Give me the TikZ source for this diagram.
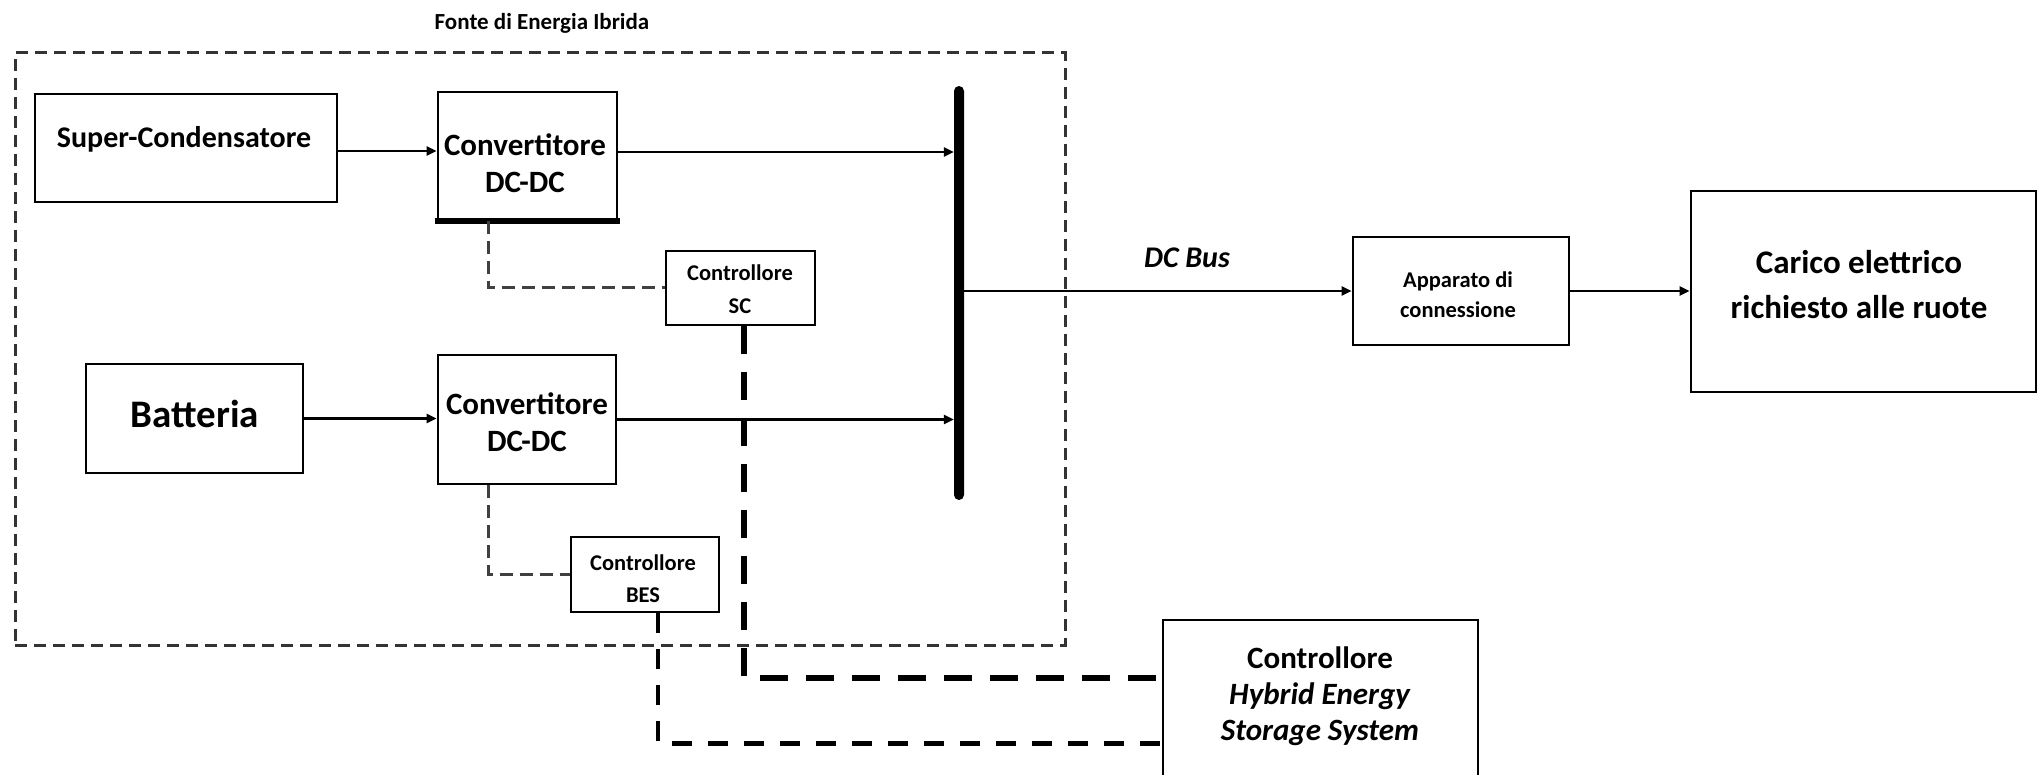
\documentclass[tikz,border=0pt]{standalone}
\usepackage{fontspec}
\setmainfont{Carlito}
\usetikzlibrary{arrows.meta}
\begin{document}
\begin{tikzpicture}[x=1pt,y=-1pt,
  box/.style={draw=black, line width=2.8pt, inner sep=0pt},
  ctrlbox/.style={draw=black, line width=2.5pt, inner sep=0pt},
  arr/.style={line width=2.6pt, -{Triangle[length=10pt,width=9pt]}},
  plain/.style={line width=2.6pt},
  outerdash/.style={draw=black!80, line width=3pt, dash pattern=on 12pt off 7pt},
  thindash/.style={draw=black!75, line width=3pt, dash pattern=on 13pt off 7pt},
  scdash/.style={line width=6pt, dash pattern=on 28pt off 18pt},
  besdash/.style={line width=4.5pt, dash pattern=on 20pt off 16pt},
  txt/.style={inner sep=0pt, align=center, font=\bfseries}
]
\useasboundingbox (0,0) rectangle (2040,775);

% dashed frame
\node[outerdash, inner sep=0pt, minimum width=1050pt, minimum height=592pt] (fonte) at (540,349) {};
\node[txt, font=\bfseries\fontsize{23}{27}\selectfont] (fonteT) at (542,23) {Fonte di Energia Ibrida};

% boxes
\node[box, minimum width=302pt, minimum height=108pt] (sc) at (186,148) {};
\node[box, minimum width=179pt, minimum height=128pt] (conv1) at (527.5,156) {};
\node[ctrlbox, minimum width=149pt, minimum height=74pt] (scc) at (740.5,288) {};
\node[box, minimum width=217pt, minimum height=109pt] (bat) at (194.5,418.5) {};
\node[box, minimum width=178pt, minimum height=129pt] (conv2) at (527,419.5) {};
\node[ctrlbox, minimum width=148pt, minimum height=75pt] (bes) at (645,574.5) {};
\node[box, minimum width=216pt, minimum height=108pt] (app) at (1461,291) {};
\node[box, minimum width=345pt, minimum height=201pt] (car) at (1863.5,291.5) {};
\node[box, minimum width=315pt, minimum height=180pt] (hess) at (1320.5,710) {};
\node[fill=black, inner sep=0pt, minimum width=10pt, minimum height=414pt, rounded corners=5pt] (bus) at (959,293) {};

% thick bottom edge of upper converter
\draw[line width=6pt] ([xshift=-2pt]conv1.south west) -- ([xshift=2pt]conv1.south east);

% texts
\node[txt, font=\bfseries\fontsize{30}{36}\selectfont, anchor=base] (scT) at (184,148) {Super-Condensatore};
\node[txt, font=\bfseries\fontsize{31}{37}\selectfont] (conv1T) at (525,163) {Convertitore\\DC-DC};
\node[txt, font=\bfseries\fontsize{22.5}{33}\selectfont] (sccT) at (740,289.5) {Controllore\\SC};
\node[txt, font=\bfseries\fontsize{39}{45}\selectfont] (batT) at (195,414) {Batteria};
\node[txt, font=\bfseries\fontsize{31}{37}\selectfont] (conv2T) at (527,422.5) {Convertitore\\DC-DC};
\node[txt, font=\bfseries\fontsize{22.5}{32}\selectfont] (besT) at (643,579) {Controllore\\BES};
\node[txt, font=\bfseries\itshape\fontsize{30}{36}\selectfont] (dcbus) at (1187,258) {DC Bus};
\node[txt, font=\bfseries\fontsize{22.5}{30}\selectfont] (appT) at (1458,295) {Apparato di\\connessione};
\node[txt, font=\bfseries\fontsize{33}{45}\selectfont] (carT) at (1859,284.5) {Carico elettrico\\richiesto alle ruote};
\node[txt, font=\bfseries\fontsize{31}{36}\selectfont] (hessT) at (1320,696) {Controllore\\\textit{Hybrid Energy}\\\textit{Storage System}};

% power connectors
\draw[arr] ([yshift=-3pt]sc.east) -- ([yshift=-3pt]sc.east -| conv1.west);
\draw[arr] ([yshift=4pt]conv1.east) -- ([yshift=4pt]conv1.east -| bus.west);
\draw[arr] (bat.east) -- (bat.east -| conv2.west);
\draw[arr] (conv2.east) -- (conv2.east -| bus.west);
\draw[arr] (app.west -| bus.east) -- (app.west);
\draw[arr] (app.east) -- (app.east -| car.west);

% control connectors
\draw[thindash] ([xshift=52pt]conv1.south west) |- (scc.west);
\draw[thindash] ([xshift=52pt]conv2.south west) |- (bes.west);
\draw[scdash] ([xshift=3pt]scc.south) |- ([yshift=-59pt]hess.north west);
\draw[besdash] ([xshift=13pt]bes.south) |- ([yshift=-125pt]hess.north west);
\end{tikzpicture}
\end{document}
